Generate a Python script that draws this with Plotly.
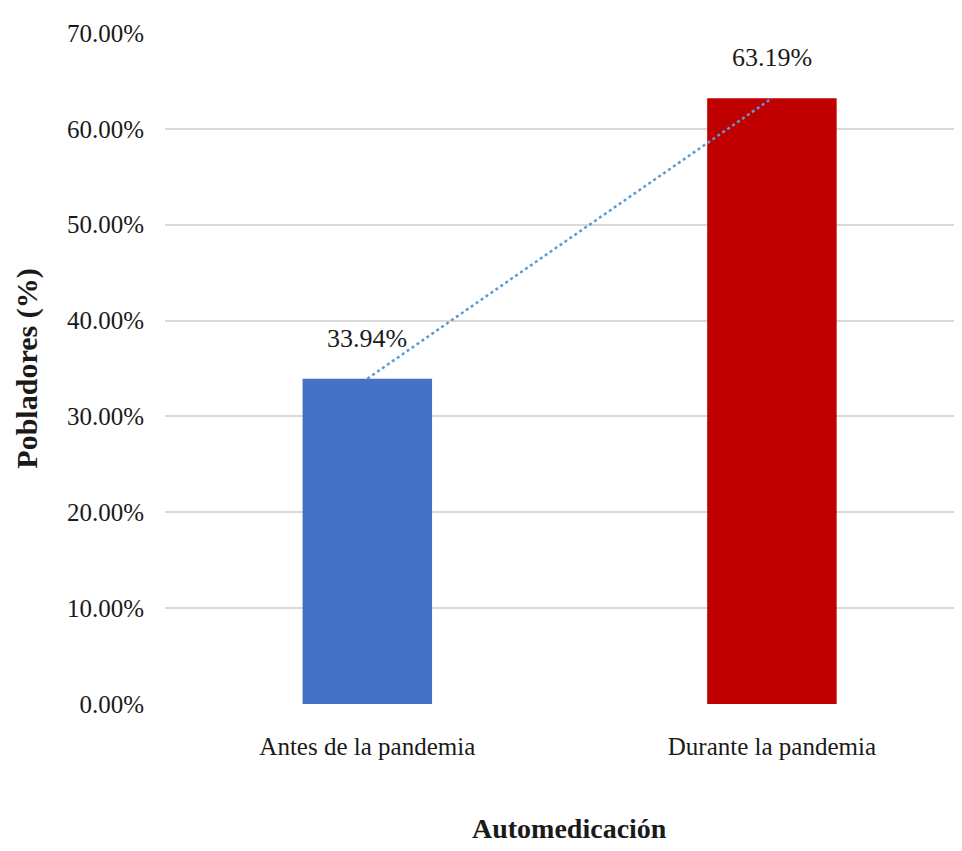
import plotly.graph_objects as go

categories = ["Antes de la pandemia", "Durante la pandemia"]
values = [33.94, 63.19]
bar_colors = ["#4472C4", "#C00000"]
y_ticks = [0, 10, 20, 30, 40, 50, 60, 70]
x_title = "Automedicación"
y_title = "Pobladores (%)"

FONT = "Liberation Serif, Times New Roman, serif"

fig = go.Figure()
fig.add_trace(go.Bar(
    x=[0, 1], y=values, width=0.32,
    marker=dict(color=bar_colors, line=dict(width=0)),
    showlegend=False, hoverinfo="skip",
))
fig.add_trace(go.Scatter(
    x=[0, 1], y=values, mode="lines",
    line=dict(color="#5B9BD5", width=2.5, dash="dot"),
    showlegend=False, hoverinfo="skip",
))

for i, v in enumerate(values):
    fig.add_annotation(x=i, y=v, xref="x", yref="y", text=f"{v:.2f}%",
                       showarrow=False, yanchor="bottom", yshift=24,
                       font=dict(family=FONT, size=26, color="#1a1a1a"))

fig.add_annotation(x=0.5, xref="x", y=-0.185, yref="paper", text=f"<b>{x_title}</b>",
                   showarrow=False, yanchor="middle",
                   font=dict(family=FONT, size=28, color="#1a1a1a"))

fig.update_layout(
    width=946, height=835,
    margin=dict(l=157, r=0, t=25, b=139),
    paper_bgcolor="white", plot_bgcolor="white",
    font=dict(family=FONT, size=25, color="#1a1a1a"),
    xaxis=dict(range=[-0.5, 1.45], tickvals=[0, 1], ticktext=categories,
               showgrid=False, zeroline=False, showline=False, ticks="",
               ticklabelstandoff=25, tickfont=dict(size=25)),
    yaxis=dict(range=[0, 70], tickvals=y_ticks,
               ticktext=[f"{t:.2f}%" for t in y_ticks],
               showgrid=True, gridcolor="#D9D9D9", gridwidth=2,
               zeroline=False, showline=False, ticks="",
               ticklabelstandoff=20, tickfont=dict(size=25),
               title=dict(text=f"<b>{y_title}</b>", standoff=20,
                          font=dict(size=30, family=FONT))),
)

fig.write_html("out.html")
